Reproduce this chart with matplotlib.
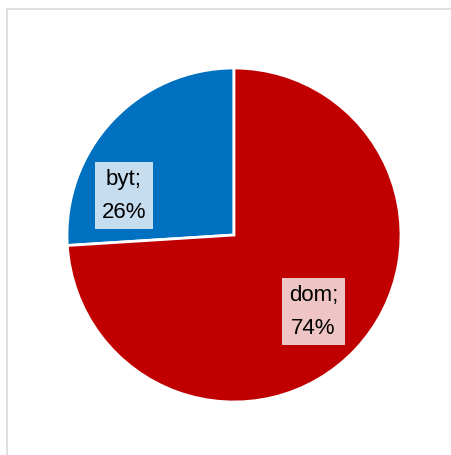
import matplotlib.pyplot as plt
from matplotlib.patches import Rectangle

# data
labels = ["byt", "dom"]
shares = [26, 74]
colors = ["#0070C0", "#C00000"]
box_colors = ["#C6DCEF", "#EEC4C4"]

W, H = 452, 456


def main():
    fig = plt.figure(figsize=(W / 100, H / 100), dpi=100)
    ax = fig.add_axes([0, 0, 1, 1])

    # chart border (only left and top edges fall inside the picture)
    ax.add_patch(Rectangle((7.5, -30), W + 40, H - 9.5 + 30, fill=False,
                           edgecolor="#D9D9D9", linewidth=1.2, clip_on=False))

    wedges, texts = ax.pie(
        shares,
        labels=[f"{l};\n{s}%" for l, s in zip(labels, shares)],
        colors=colors,
        startangle=90,
        counterclock=True,
        center=(234, H - 236),
        radius=167,
        labeldistance=0.66,
        wedgeprops=dict(edgecolor="white", linewidth=2),
        frame=True,
    )
    ax.set_xlim(0, W)
    ax.set_ylim(0, H)
    ax.axis("off")

    for t, bc in zip(texts, box_colors):
        t.set_fontsize(16)
        t.set_family("Liberation Sans")
        t.set_ha("center")
        t.set_va("center")
        t.set_linespacing(1.75)
        t.set_bbox(dict(boxstyle="square,pad=0.3", facecolor=bc, edgecolor="none"))

    # excel nudges the small label towards the left
    texts[0].set_position((124, H - 196.5))
    texts[1].set_position((313.5, H - 312.5))

    fig.savefig("out.png", dpi=100)


if __name__ == '__main__':
    main()
